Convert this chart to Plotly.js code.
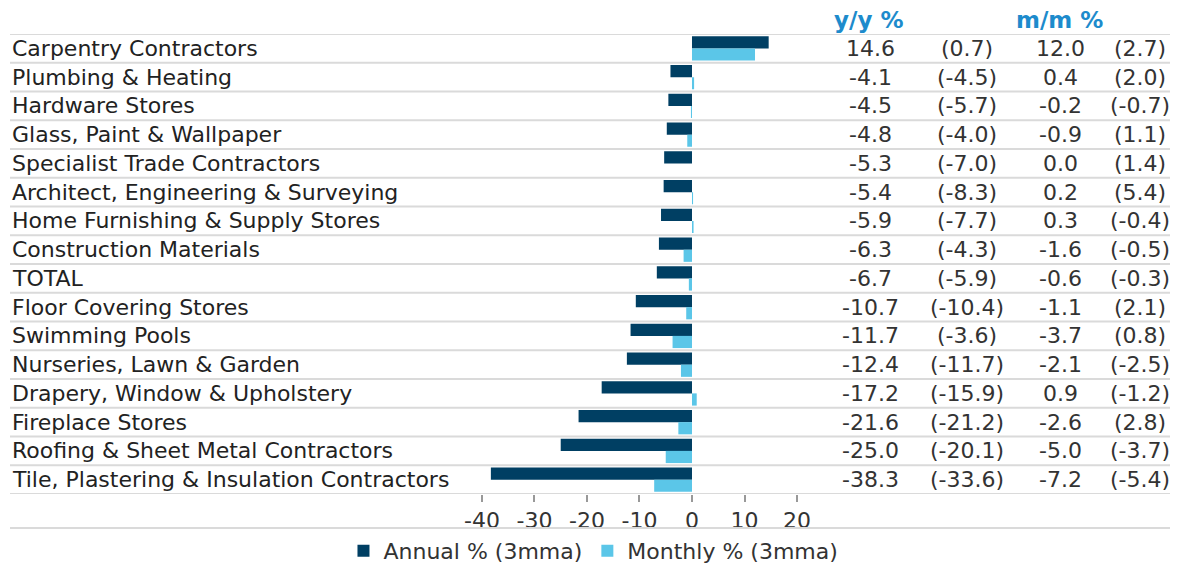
<!DOCTYPE html>
<html>
<head>
<meta charset="utf-8">
<script src="https://cdn.plot.ly/plotly-3.0.1.min.js"></script>
<style>
    body { margin: 0; background: #fff; }
    #chart { width: 1187px; height: 566px; }
</style>
</head>
<body>
<div id="chart"></div>
<script>
"use strict";

// chart data
const categories = [
    "Carpentry Contractors",
    "Plumbing & Heating",
    "Hardware Stores",
    "Glass, Paint & Wallpaper",
    "Specialist Trade Contractors",
    "Architect, Engineering & Surveying",
    "Home Furnishing & Supply Stores",
    "Construction Materials",
    "TOTAL",
    "Floor Covering Stores",
    "Swimming Pools",
    "Nurseries, Lawn & Garden",
    "Drapery, Window & Upholstery",
    "Fireplace Stores",
    "Roofing & Sheet Metal Contractors",
    "Tile, Plastering & Insulation Contractors"
];
const annual = [14.6, -4.1, -4.5, -4.8, -5.3, -5.4, -5.9, -6.3, -6.7, -10.7, -11.7, -12.4, -17.2, -21.6, -25.0, -38.3];
const annualPrev = [0.7, -4.5, -5.7, -4.0, -7.0, -8.3, -7.7, -4.3, -5.9, -10.4, -3.6, -11.7, -15.9, -21.2, -20.1, -33.6];
const monthly = [12.0, 0.4, -0.2, -0.9, 0.0, 0.2, 0.3, -1.6, -0.6, -1.1, -3.7, -2.1, 0.9, -2.6, -5.0, -7.2];
const monthlyPrev = [2.7, 2.0, -0.7, 1.1, 1.4, 5.4, -0.4, -0.5, -0.3, 2.1, 0.8, -2.5, -1.2, 2.8, -3.7, -5.4];
const xTicks = [-40, -30, -20, -10, 0, 10, 20];

const font = "DejaVu Sans, Verdana, sans-serif";
const textColor = "#333333";
const gridColor = "#dadada";
const darkBlue = "#003f63";
const lightBlue = "#5bc6e8";
const headBlue = "#1d8bcc";
const fontSize = 22;

// table column centres, in paper coords
const colX = [0.7414, 0.825, 0.9052, 0.9741];

let traces = [
    {
        type: "bar", orientation: "h", name: "Annual % (3mma)",
        y: categories, x: annual,
        marker: { color: darkBlue }
    },
    {
        type: "bar", orientation: "h", name: "Monthly % (3mma)",
        y: categories, x: monthly,
        marker: { color: lightBlue }
    }
];

let annotations = [];
let shapes = [];

// helper that makes one table cell
function cell(x, y, text) {
    return {
        xref: "paper", yref: "y", x: x, y: y, text: text,
        showarrow: false, xanchor: "center", yanchor: "middle",
        font: { family: font, size: fontSize, color: textColor }
    };
}

for (let i = 0; i < categories.length; i++) {
    // row label on the far left
    annotations.push({
        xref: "paper", yref: "y", x: 0, y: categories[i], text: categories[i],
        showarrow: false, xanchor: "left", yanchor: "middle",
        font: { family: font, size: fontSize, color: "#222222" }
    });
    annotations.push(cell(colX[0], categories[i], annual[i].toFixed(1)));
    annotations.push(cell(colX[1], categories[i], "(" + annualPrev[i].toFixed(1) + ")"));
    annotations.push(cell(colX[2], categories[i], monthly[i].toFixed(1)));
    annotations.push(cell(colX[3], categories[i], "(" + monthlyPrev[i].toFixed(1) + ")"));
}

// column headers
annotations.push({
    xref: "paper", yref: "paper", x: 0.7397, y: 1.0304, text: "<b>y/y %</b>",
    showarrow: false, xanchor: "center", yanchor: "middle",
    font: { family: font, size: 23, color: headBlue }
});
annotations.push({
    xref: "paper", yref: "paper", x: 0.905, y: 1.0304, text: "<b>m/m %</b>",
    showarrow: false, xanchor: "center", yanchor: "middle",
    font: { family: font, size: 23, color: headBlue }
});

// row separators across the whole width
for (let i = 0; i <= categories.length; i++) {
    shapes.push({
        type: "line", xref: "paper", yref: "y",
        x0: 0, x1: 1, y0: i - 0.5, y1: i - 0.5,
        line: { color: gridColor, width: 2 }
    });
}
// line under the axis labels
shapes.push({
    type: "line", xref: "paper", yref: "paper",
    x0: 0, x1: 1, y0: -0.0739, y1: -0.0739,
    line: { color: gridColor, width: 2 }
});

let layout = {
    width: 1187, height: 566,
    margin: { l: 10, r: 17, t: 34, b: 72, autoexpand: false },
    paper_bgcolor: "#ffffff", plot_bgcolor: "#ffffff",
    font: { family: font, size: fontSize, color: textColor },
    barmode: "group", bargap: 0.15, bargroupgap: 0,
    xaxis: {
        domain: [0.3978, 0.7011],
        range: [-42, 25],
        tickvals: xTicks,
        ticktext: xTicks.map(String),
        ticks: "outside", ticklen: 7, tickcolor: "#999999", tickwidth: 2,
        showgrid: false, zeroline: false, showline: false, automargin: false,
        tickfont: { family: font, size: fontSize, color: textColor }
    },
    yaxis: {
        type: "category",
        categoryarray: categories,
        range: [categories.length - 0.5, -0.5],
        showticklabels: false, showgrid: false, zeroline: false, ticks: ""
    },
    showlegend: true,
    legend: {
        orientation: "h", x: 0.503, xanchor: "center", y: -0.124, yanchor: "middle",
        font: { family: font, size: fontSize, color: textColor },
        itemwidth: 30, traceorder: "normal"
    },
    annotations: annotations,
    shapes: shapes
};

Plotly.newPlot("chart", traces, layout, { displayModeBar: false, staticPlot: true });
</script>
</body>
</html>
